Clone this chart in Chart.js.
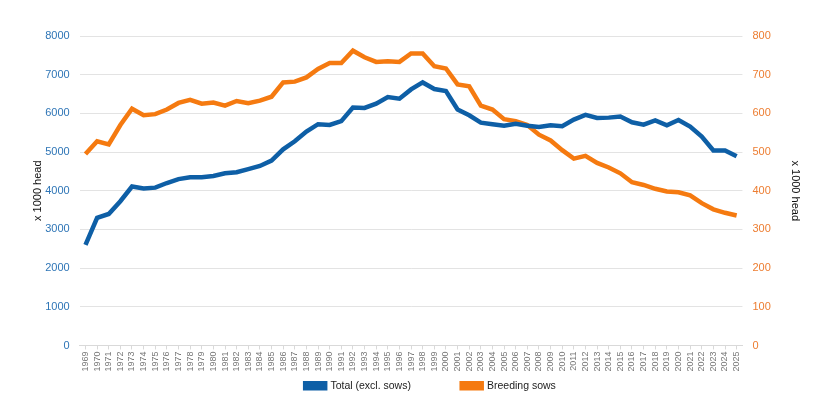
<!DOCTYPE html>
<html>
<head>
<meta charset="utf-8">
<script src="https://cdn.jsdelivr.net/npm/chart.js@4.4.0/dist/chart.umd.min.js"></script>
<style>
  html, body { margin: 0; padding: 0; background: #fff; }
  #wrap { width: 820px; height: 401px; position: relative; }
</style>
</head>
<body>
<div id="wrap"><canvas id="pigChart"></canvas></div>
<script>
// Years on the x axis
const years = [];
for (let y = 1969; y <= 2025; y++) years.push(String(y));

// Total pigs excluding sows (x 1000 head, left axis)
const totalExclSows = [
  2600, 3300, 3400, 3730, 4110, 4060, 4080, 4200, 4300, 4350,
  4350, 4380, 4450, 4480, 4560, 4640, 4780, 5070, 5280, 5530,
  5720, 5700, 5800, 6150, 6140, 6250, 6420, 6380, 6620, 6800,
  6630, 6580, 6100, 5950, 5760, 5720, 5680, 5730, 5680, 5650,
  5690, 5670, 5840, 5960, 5880, 5890, 5920, 5770, 5710, 5820,
  5690, 5830, 5660, 5400, 5040, 5040, 4890
];

// Breeding sows (x 1000 head, right axis)
const breedingSows = [
  495, 528, 520, 570, 612, 595, 598, 610, 627, 635,
  625, 628, 620, 632, 626, 633, 643, 680, 682, 693,
  715, 730, 730, 762, 745, 733, 735, 733, 755, 755,
  722, 716, 675, 670, 620, 610, 585, 580, 570, 545,
  530, 505, 483, 490, 472, 460, 445, 422, 415, 405,
  398, 396, 388, 368, 352, 343, 336
];

const blue = '#0e5fa6';
const orange = '#f57a10';
const fontFamily = "'Liberation Sans', Arial, sans-serif";

// nudge the legend a bit to the right, like the original
const legendShift = {
  id: 'legendShift',
  afterLayout(chart) {
    chart.legend.left += 13;
    chart.legend.right += 13;
  }
};

const ctx = document.getElementById('pigChart').getContext('2d');
new Chart(ctx, {
  type: 'line',
  data: {
    labels: years,
    datasets: [{
      label: 'Total (excl. sows)',
      data: totalExclSows,
      borderColor: blue,
      backgroundColor: blue,
      borderWidth: 4.5,
      pointRadius: 0,
      tension: 0,
      yAxisID: 'y'
    }, {
      label: 'Breeding sows',
      data: breedingSows,
      borderColor: orange,
      backgroundColor: orange,
      borderWidth: 4.5,
      pointRadius: 0,
      tension: 0,
      yAxisID: 'y1'
    }]
  },
  plugins: [legendShift],
  options: {
    responsive: true,
    maintainAspectRatio: false,
    animation: false,
    layout: { padding: { left: 27, right: 12, top: 36, bottom: 0 } },
    plugins: {
      legend: {
        position: 'bottom',
        labels: {
          boxWidth: 20,
          boxHeight: 5,
          padding: 7,
          color: '#222',
          font: { family: fontFamily, size: 10.5 },
          // widen the gap between the two legend entries
          generateLabels: (chart) => {
            const items = Chart.defaults.plugins.legend.labels.generateLabels(chart);
            items[0].text += '\u00a0'.repeat(15);
            return items;
          }
        }
      },
      tooltip: { enabled: false }
    },
    scales: {
      x: {
        offset: true,
        grid: { display: true, drawOnChartArea: false, tickLength: 4, color: '#d9d9d9' },
        border: { color: '#d9d9d9' },
        ticks: {
          autoSkip: false,
          maxRotation: 90,
          minRotation: 90,
          color: '#777',
          padding: 2,
          font: { family: fontFamily, size: 9 }
        }
      },
      y: {
        position: 'left',
        min: 0,
        max: 8000,
        ticks: {
          stepSize: 1000,
          color: '#2e75b6',
          padding: 10,
          font: { family: fontFamily, size: 11 },
          callback: (v) => String(v)
        },
        grid: { color: '#e3e3e3', drawTicks: false },
        border: { display: false },
        title: {
          display: true, text: 'x 1000 head', color: '#111',
          padding: { top: 4, bottom: -9 },
          font: { family: fontFamily, size: 11 }
        }
      },
      y1: {
        position: 'right',
        min: 0,
        max: 800,
        ticks: { stepSize: 100, color: '#ed7d31', padding: 10, font: { family: fontFamily, size: 11 } },
        grid: { drawOnChartArea: false, drawTicks: false },
        border: { display: false },
        title: {
          display: true, text: 'x 1000 head', color: '#111',
          padding: { top: 6, bottom: 8 },
          font: { family: fontFamily, size: 11 }
        }
      }
    }
  }
});
</script>
</body>
</html>
